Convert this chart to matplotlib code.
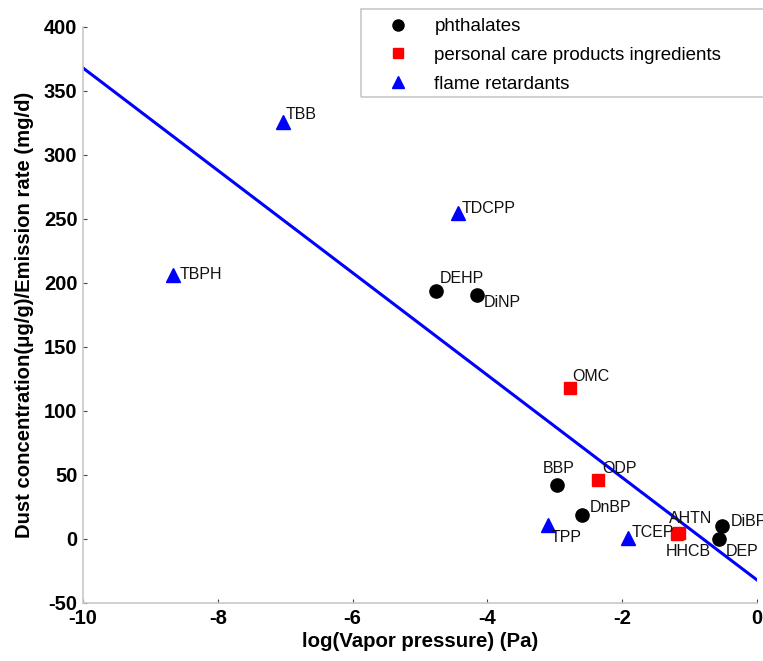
import numpy as np
import matplotlib
matplotlib.use("Agg")
import matplotlib.pyplot as plt
from matplotlib.lines import Line2D
from matplotlib.patches import Rectangle

plt.rcParams['font.family'] = ['Liberation Sans', 'DejaVu Sans']
plt.rcParams['axes.unicode_minus'] = False

# data
phth_names = ['DEHP', 'DiNP', 'BBP', 'DnBP', 'DiBP', 'DEP']
phth_x = [-4.76, -4.16, -2.96, -2.59, -0.52, -0.56]
phth_y = [194, 191, 42, 19, 10, 0]

pcp_names = ['OMC', 'ODP', 'AHTN', 'HHCB']
pcp_x = [-2.77, -2.36, -1.15, -1.19]
pcp_y = [118, 46, 5, 4]

fr_names = ['TBB', 'TDCPP', 'TBPH', 'TPP', 'TCEP']
fr_x = [-7.04, -4.44, -8.67, -3.10, -1.91]
fr_y = [326, 255, 206, 11, 1]

fit_x = [-10, 0]
fit_y = [368, -32]

# label offsets (pixels: left edge, vertical centre, +y is down)
offs = {'TBB': (3, -7), 'TDCPP': (4, -4), 'TBPH': (7, -1), 'DEHP': (4, -12),
        'DiNP': (7, 8), 'OMC': (2, -11), 'BBP': (-15, -17), 'ODP': (4, -12),
        'DnBP': (7, -7), 'TPP': (3, 13), 'TCEP': (3, -5), 'AHTN': (-11, -14),
        'HHCB': (-11, 18), 'DiBP': (9, -5), 'DEP': (6, 12)}

W, H = 763, 661
fig = plt.figure(figsize=(W / 100, H / 100), dpi=100)
ax = fig.add_axes([83 / W, 58 / H, (757 - 83) / W, (603 - 27) / H])

ax.plot(fit_x, fit_y, color='#0000ff', lw=2.2, zorder=2)
ax.plot(phth_x, phth_y, 'o', color='black', ms=9.5, ls='none', zorder=3)
ax.plot(pcp_x, pcp_y, 's', color='#ff0000', ms=8, ls='none', zorder=3)
ax.plot(fr_x, fr_y, '^', color='#0000ff', ms=10, ls='none', zorder=3)

for names, xs, ys in [(phth_names, phth_x, phth_y), (pcp_names, pcp_x, pcp_y),
                      (fr_names, fr_x, fr_y)]:
    for n, x, y in zip(names, xs, ys):
        dx, dy = offs[n]
        ax.annotate(n, (x, y), xytext=(dx * 0.72, -dy * 0.72), textcoords='offset points',
                    ha='left', va='center', fontsize=11.5, color='#111111', zorder=4)

ax.set_xlim(-10, 0)
ax.set_ylim(-50, 400)
ax.set_xticks(np.arange(-10, 1, 2))
ax.set_yticks(np.arange(-50, 401, 50))
for s in ['top', 'right']:
    ax.spines[s].set_visible(False)
for s in ['left', 'bottom']:
    ax.spines[s].set_color('#c8c8c8')
    ax.spines[s].set_linewidth(1.2)
ax.tick_params(direction='in', length=3, color='#444444', width=0.8, labelsize=14.5, pad=4)
for lab in ax.get_xticklabels() + ax.get_yticklabels():
    lab.set_fontweight('bold')
ax.set_xlabel('log(Vapor pressure) (Pa)', fontsize=14.7, fontweight='bold', labelpad=3)
ax.set_ylabel('Dust concentration(μg/g)/Emission rate (mg/d)', fontsize=14.6,
              fontweight='bold', labelpad=7)

handles = [Line2D([], [], marker='o', color='black', ls='none', ms=8),
           Line2D([], [], marker='s', color='#ff0000', ls='none', ms=7),
           Line2D([], [], marker='^', color='#0000ff', ls='none', ms=8)]
labels = ['phthalates', 'personal care products ingredients', 'flame retardants']
fig.legend(handles, labels, loc='upper left', bbox_to_anchor=(366 / W, 1 - 5 / H),
           frameon=False, fontsize=13.5, handletextpad=0.95, labelspacing=0.62,
           borderpad=0.2)
fig.patches.append(Rectangle((361 / W, 1 - 97 / H), 1, 88 / H, transform=fig.transFigure,
                             fill=False, edgecolor='#c8c8c8', lw=1.2))

fig.savefig('out.png', dpi=100)
